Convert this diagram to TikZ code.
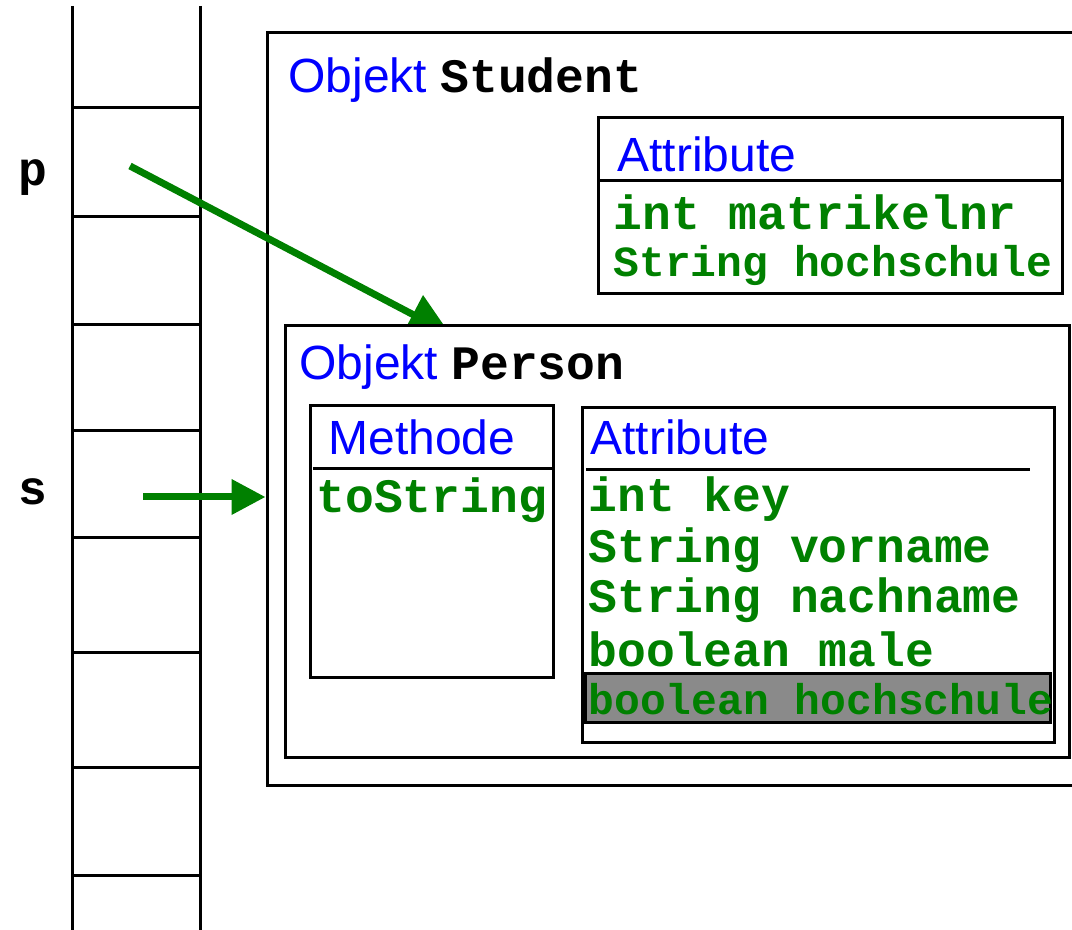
\documentclass[tikz,border=0pt]{standalone}
\usepackage{fontspec}
\setmainfont{Liberation Sans}
\setmonofont{Liberation Mono}
\usetikzlibrary{arrows.meta,fit}
\pgfdeclarelayer{front}
\pgfsetlayers{main,front}

\begin{document}
\begin{tikzpicture}[x=0.5pt, y=-0.5pt,
    box/.style={draw, line width=1.5pt, inner sep=0pt},
    lbl/.style={anchor=base west, inner sep=0pt, font=\fontsize{24}{28}\selectfont},
    head/.style={lbl, text=objblue},
    varname/.style={lbl, anchor=base, font=\fontsize{24}{28}\selectfont\ttfamily\bfseries},
    attr/.style={lbl, text=attrgreen, font=\fontsize{24}{28}\selectfont\ttfamily\bfseries},
    attrsmall/.style={attr, font=\fontsize{21.5}{26}\selectfont\ttfamily\bfseries},
    ref/.style={draw=attrgreen, line width=3.5pt, -{Triangle[length=17pt,width=17pt]}},
    bigref/.style={ref, -{Triangle[length=21pt,width=21pt]}}]
        % Define colors
        \definecolor{objblue}{RGB}{0,0,255}
        \definecolor{attrgreen}{RGB}{0,128,0}
        \definecolor{markgray}{RGB}{138,138,138}

        \useasboundingbox (0,0) rectangle (1072,930);
        \clip (0,0) rectangle (1072,930);

        % Stack
        \draw[line width=1.5pt] (72,6) -- (72,935);
        \draw[line width=1.5pt] (200,6) -- (200,935);
        \foreach \y in {108,217,325,431,538,653,767,875}
            \draw[line width=1.5pt] (72,\y) -- (200,\y);
        \node[varname] (p) at (33,186) {p};
        \node[varname] (s) at (33,505) {s};
        \coordinate (pfrom) at (130,166);
        \coordinate (sfrom) at (143,497);

        % Objekt Student
        \node[box, fit={(267,33) (1085,785)}] (student) {};
        \node[head] (studenthead) at (288,93) {Objekt \textcolor{black}{\ttfamily\bfseries Student}};
        \node[box, fit={(598,118) (1062,294)}] (sattr) {};
        \draw[line width=1.5pt] (597,181) -- (1062,181);
        \node[head] (sattrhead) at (617,172) {Attribute};
        \node[attr] (matrikelnr) at (613,230) {int matrikelnr};
        \node[attrsmall] (shochschule) at (613,277) {String hochschule};

        % Objekt Person
        \begin{pgfonlayer}{front}
        \node[box, fill=white, fit={(285,326) (1069,757)}] (person) {};
        \node[head] (personhead) at (299,380) {Objekt \textcolor{black}{\ttfamily\bfseries Person}};
        \node[box, fit={(310,406) (553,678)}] (methods) {};
        \draw[line width=1.5pt] (313,469) -- (553,469);
        \node[head] (methodhead) at (328,455) {Methode};
        \node[attr] (tostring) at (316,513) {toString};
        \node[box, fit={(582,408) (1054,742)}] (pattr) {};
        \draw[line width=1.5pt] (586,470) -- (1030,470);
        \node[head] (pattrhead) at (590,455) {Attribute};
        \node[attr] (key) at (588,512) {int key};
        \node[attr] (vorname) at (588,563) {String vorname};
        \node[attr] (nachname) at (588,613) {String nachname};
        \node[attr] (male) at (588,667) {boolean male};
        \node[box, fill=markgray, fit={(585,674) (1050,723)}] (mark) {};
        \node[attrsmall] (phochschule) at (588,715) {boolean hochschule};
        \end{pgfonlayer}

        % References
        \coordinate (pto) at (450,334);
        \draw[bigref] (pfrom) -- (pto);
        \draw[ref] (sfrom) -- (student.west |- sfrom);

\end{tikzpicture}
\end{document}
